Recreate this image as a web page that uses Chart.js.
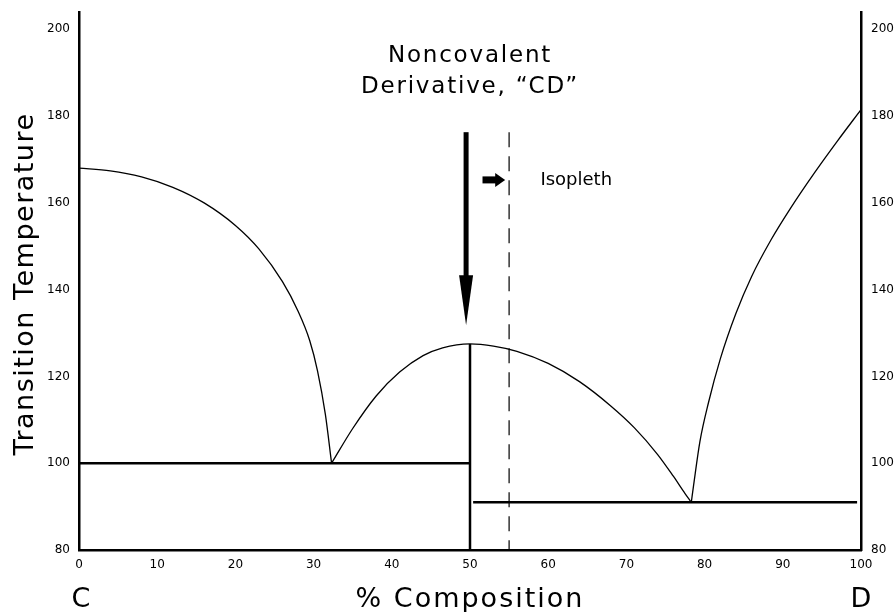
<!DOCTYPE html>
<html>
<head>
<meta charset="utf-8">
<script src="https://cdn.jsdelivr.net/npm/chart.js@4"></script>
<style>
html, body { margin: 0; padding: 0; background: #fff; }
#wrap { width: 896px; height: 612px; }
</style>
</head>
<body>
<div id="wrap"><canvas id="chart"></canvas></div>
<script>
const xTicks = [0, 10, 20, 30, 40, 50, 60, 70, 80, 90, 100];
const yTicks = [80, 100, 120, 140, 160, 180, 200];

// liquidus of pure C down to the first eutectic
const leftLiquidusX = [0, 4, 8, 12, 16, 20, 23, 26, 28, 29.5, 30.5, 31.5, 32.3];
const leftLiquidusY = [168, 167.4, 166, 163.6, 160, 154.8, 149.4, 141.9, 135.1, 128.3, 121.3, 111.3, 100];

// melting dome of the 1:1 compound "CD"
const compoundX = [32.3, 35, 38, 41, 44, 46.5, 50, 53, 56, 60, 64, 68, 71, 74, 76, 77.5, 78.3];
const compoundY = [100, 108, 115.5, 121, 124.8, 126.6, 127.5, 127, 125.8, 123, 118.8, 113.2, 108.2, 102, 97, 93, 91];

// liquidus of pure D
const rightLiquidusX = [78.3, 78.6, 79.4, 80.5, 82, 84, 86, 88.5, 91, 94, 97, 100];
const rightLiquidusY = [91, 95, 105, 114, 124, 134.5, 143, 151.5, 158.8, 166.8, 174.3, 181.5];

const tieLeftX = [0, 50];
const tieLeftY = [100, 100];
const compoundLineX = [50, 50];
const compoundLineY = [127.5, 80];
const tieRightX = [50.4, 99.5];
const tieRightY = [91, 91];
const isoplethX = [55, 55];
const isoplethY = [176.3, 80];

const arrowDownX = 49.5;
const arrowDownY = [176.3, 131.8];
const arrowRightX = [51.6, 54.5];
const arrowRightY = 165.3;

const titleLines = ['Noncovalent', 'Derivative, \u201CCD\u201D'];
const isoplethLabel = 'Isopleth';
const isoplethLabelAt = [59, 165.3];
const xTitle = '% Composition';
const yTitle = 'Transition Temperature';
const endLabels = ['C', 'D'];

function toPoints(xs, ys) {
    return xs.map((x, i) => ({ x: x, y: ys[i] }));
}

function curve(xs, ys) {
    return {
        data: toPoints(xs, ys),
        borderColor: '#000',
        borderWidth: 1.3,
        pointRadius: 0,
        cubicInterpolationMode: 'monotone',
        fill: false
    };
}

function rule(xs, ys, width, dash) {
    return {
        data: toPoints(xs, ys),
        borderColor: '#000',
        borderWidth: width,
        borderDash: dash || [],
        pointRadius: 0,
        tension: 0,
        fill: false
    };
}

const FONT = "'DejaVu Sans', Verdana, sans-serif";

const annotations = {
    id: 'annotations',
    afterDatasetsDraw(chart) {
        const ctx = chart.ctx;
        const xs = chart.scales.x;
        const ys = chart.scales.y;
        const area = chart.chartArea;
        ctx.save();
        ctx.fillStyle = '#000';

        // big downward arrow
        const ax = xs.getPixelForValue(arrowDownX);
        const aTop = ys.getPixelForValue(arrowDownY[0]);
        const aTip = ys.getPixelForValue(arrowDownY[1]);
        const headLen = 50;
        ctx.fillRect(ax - 2.5, aTop, 5, aTip - headLen - aTop + 1);
        ctx.beginPath();
        ctx.moveTo(ax - 7, aTip - headLen);
        ctx.lineTo(ax + 7, aTip - headLen);
        ctx.lineTo(ax, aTip);
        ctx.closePath();
        ctx.fill();

        // small right arrow
        const rx0 = xs.getPixelForValue(arrowRightX[0]);
        const rx1 = xs.getPixelForValue(arrowRightX[1]);
        const ry = ys.getPixelForValue(arrowRightY);
        ctx.fillRect(rx0, ry - 3.5, rx1 - rx0 - 9, 7);
        ctx.beginPath();
        ctx.moveTo(rx1 - 10, ry - 7);
        ctx.lineTo(rx1, ry);
        ctx.lineTo(rx1 - 10, ry + 7);
        ctx.closePath();
        ctx.fill();

        // title
        const cx = (area.left + area.right) / 2;
        ctx.font = '23px ' + FONT;
        ctx.letterSpacing = '1.8px';
        ctx.textAlign = 'center';
        ctx.textBaseline = 'alphabetic';
        ctx.fillText(titleLines[0], cx, 62);
        ctx.fillText(titleLines[1], cx, 93);

        // isopleth label
        ctx.letterSpacing = '0px';
        ctx.font = '18px ' + FONT;
        ctx.textAlign = 'left';
        ctx.textBaseline = 'middle';
        ctx.fillText(isoplethLabel, xs.getPixelForValue(isoplethLabelAt[0]), ys.getPixelForValue(isoplethLabelAt[1]));

        // axis titles
        ctx.textBaseline = 'alphabetic';
        ctx.textAlign = 'center';
        ctx.font = '27px ' + FONT;
        ctx.letterSpacing = '2px';
        ctx.fillText(xTitle, cx, 607);
        ctx.letterSpacing = '0px';
        ctx.fillText(endLabels[0], xs.getPixelForValue(0) + 2, 607);
        ctx.fillText(endLabels[1], xs.getPixelForValue(100), 607);

        ctx.save();
        ctx.translate(33, (area.top + area.bottom) / 2 + 3);
        ctx.rotate(-Math.PI / 2);
        ctx.letterSpacing = '1.5px';
        ctx.fillText(yTitle, 0, 0);
        ctx.restore();

        ctx.restore();
    }
};

function yAxis(position, width, padding) {
    return {
        type: 'linear',
        position: position,
        min: 80,
        max: 204,
        grid: { display: false, drawTicks: false },
        border: { display: true, color: '#000', width: 2.5 },
        ticks: { color: '#000', padding: padding, font: { family: FONT, size: 12 } },
        afterBuildTicks: s => { s.ticks = yTicks.map(v => ({ value: v })); },
        afterFit: s => { s.width = width; s.paddingTop = 0; s.paddingBottom = 0; }
    };
}

new Chart(document.getElementById('chart'), {
    type: 'line',
    data: {
        datasets: [
            curve(leftLiquidusX, leftLiquidusY),
            curve(compoundX, compoundY),
            curve(rightLiquidusX, rightLiquidusY),
            rule(tieLeftX, tieLeftY, 2.5),
            rule(compoundLineX, compoundLineY, 2.5),
            rule(tieRightX, tieRightY, 2.5),
            rule(isoplethX, isoplethY, 1.2, [15, 9])
        ]
    },
    options: {
        responsive: true,
        maintainAspectRatio: false,
        animation: false,
        layout: { padding: { top: 12, right: 0, bottom: 0, left: 0 } },
        plugins: { legend: { display: false }, tooltip: { enabled: false } },
        scales: {
            x: {
                type: 'linear',
                position: 'bottom',
                min: 0,
                max: 100,
                grid: { display: false, drawTicks: false },
                border: { display: true, color: '#000', width: 2.5 },
                ticks: { color: '#000', padding: 8, maxRotation: 0, font: { family: FONT, size: 12 } },
                afterBuildTicks: s => { s.ticks = xTicks.map(v => ({ value: v })); },
                afterFit: s => { s.height = 62; }
            },
            y: yAxis('left', 79, 9),
            y2: yAxis('right', 35, 10)
        }
    },
    plugins: [annotations]
});
</script>
</body>
</html>
